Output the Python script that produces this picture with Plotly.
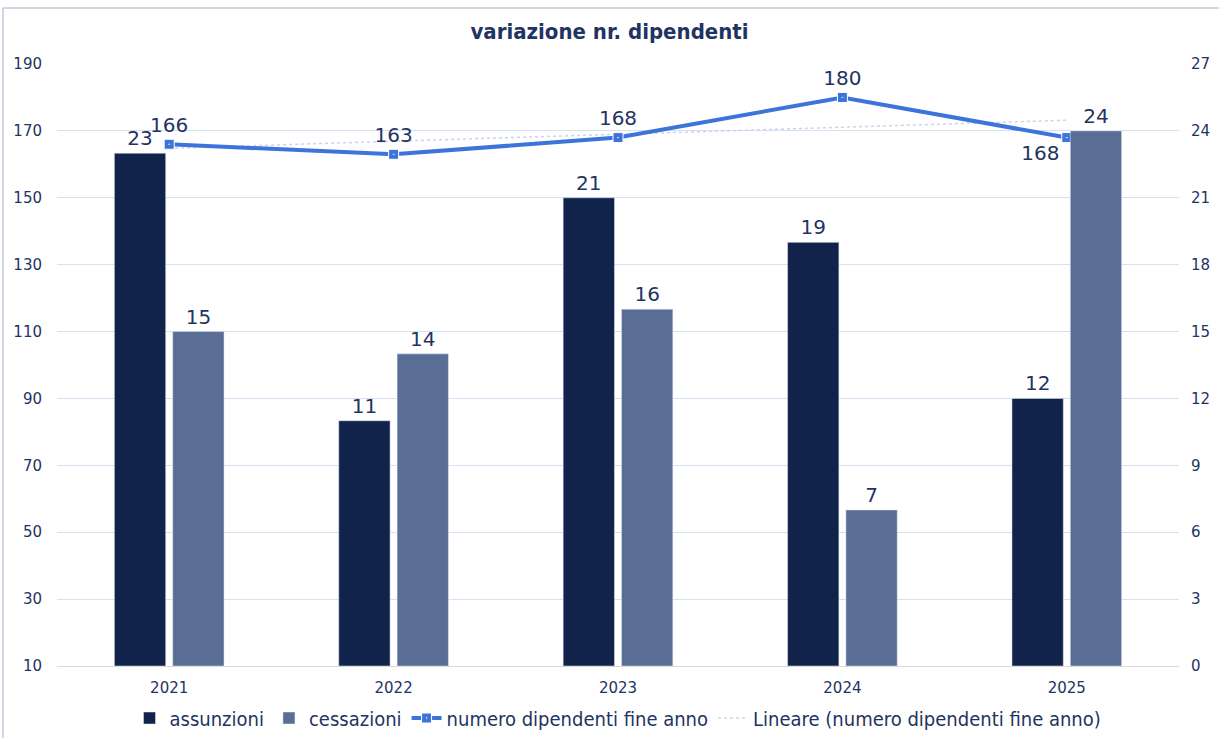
import numpy as np
import plotly.graph_objects as go

years = ["2021", "2022", "2023", "2024", "2025"]
assunzioni = [23, 11, 21, 19, 12]
cessazioni = [15, 14, 16, 7, 24]
dipendenti = [166, 163, 168, 180, 168]
left_ticks = [10, 30, 50, 70, 90, 110, 130, 150, 170, 190]
right_ticks = [0, 3, 6, 9, 12, 15, 18, 21, 24, 27]

idx = np.arange(len(years))
coef = np.polyfit(idx, dipendenti, 1)
trend = list(np.polyval(coef, idx))

TXT = "#1F3462"
FONT = "DejaVu Sans Condensed, Liberation Sans Narrow, Roboto, sans-serif"
TICKFONT = "DejaVu Sans, Roboto, sans-serif"
LBLFONT = "DejaVu Sans, Roboto, sans-serif"

fig = go.Figure()
fig.add_trace(go.Bar(
    x=years, y=assunzioni, name="assunzioni", yaxis="y2",
    marker=dict(color="#11234B"), text=assunzioni, textposition="outside",
    textfont=dict(size=20, color=TXT, family=LBLFONT), cliponaxis=False,
))
fig.add_trace(go.Bar(
    x=years, y=cessazioni, name="cessazioni", yaxis="y2",
    marker=dict(color="#5A6D95"), text=cessazioni, textposition="outside",
    textfont=dict(size=20, color=TXT, family=LBLFONT), cliponaxis=False,
))
fig.add_trace(go.Scatter(
    x=years, y=trend, name="Lineare (numero dipendenti fine anno)", yaxis="y",
    mode="lines", line=dict(color="#C9D3EA", width=1.5, dash="dot"),
))
fig.add_trace(go.Scatter(
    x=years, y=dipendenti, name="numero dipendenti fine anno", yaxis="y",
    mode="lines+markers+text", line=dict(color="#3C74DA", width=4),
    marker=dict(symbol="square-dot", size=10, color="#3C74DA", line=dict(color="white", width=1)),
    text=dipendenti,
    textposition=["top center", "top center", "top center", "top center", "bottom left"],
    textfont=dict(size=20, color=TXT, family=LBLFONT), cliponaxis=False,
))

fig.update_layout(
    width=1219, height=738,
    margin=dict(l=57, r=40, t=64, b=72, autoexpand=False),
    paper_bgcolor="white", plot_bgcolor="white",
    title=dict(text="<b>variazione nr. dipendenti</b>", x=0.5, xanchor="center", y=0.958, yanchor="middle",
               font=dict(size=22, color=TXT, family=FONT)),
    barmode="group", bargap=0.48, bargroupgap=0.12,
    xaxis=dict(type="category", showgrid=False, showline=True, linecolor="#D9D9D9", linewidth=1,
               tickfont=dict(size=15, color=TXT, family=TICKFONT), ticks="", ticklabelstandoff=8),
    yaxis=dict(range=[10, 190], tickvals=left_ticks, showgrid=True, gridcolor="#D6E0F3", gridwidth=1,
               zeroline=False, tickfont=dict(size=15, color=TXT, family=TICKFONT), ticklabelstandoff=14),
    yaxis2=dict(range=[0, 27], tickvals=right_ticks, overlaying="y", side="right", showgrid=False,
                zeroline=False, tickfont=dict(size=15, color=TXT, family=TICKFONT), ticklabelstandoff=11),
    legend=dict(orientation="h", x=0.5, xanchor="center", yref="container", y=(738 - 718) / 738,
                yanchor="middle", font=dict(size=20, color=TXT, family=FONT), traceorder="normal",
                itemwidth=30, bgcolor="rgba(0,0,0,0)"),
    showlegend=True,
)
fig.data[0].legendrank = 1
fig.data[1].legendrank = 2
fig.data[3].legendrank = 3
fig.data[2].legendrank = 4

fig.add_shape(type="rect", xref="paper", yref="paper",
              x0=(3 - 57) / 1122, x1=(1230 - 57) / 1122,
              y0=-(760 - 666) / 602, y1=1 + (64 - 8) / 602,
              line=dict(color="#A6AEC2", width=1), fillcolor="rgba(0,0,0,0)", layer="below")

fig.write_html("out.html", config={"displayModeBar": False},
               post_script="document.body.style.margin='0';document.body.style.overflow='hidden';")
